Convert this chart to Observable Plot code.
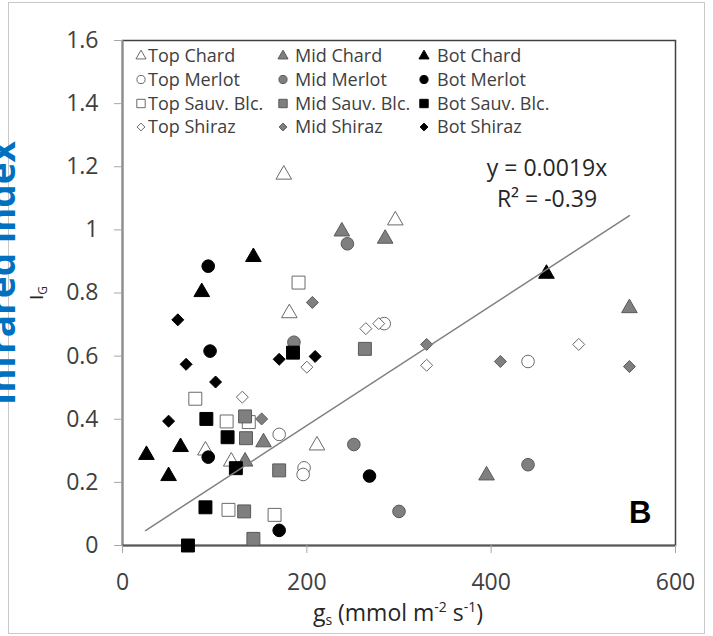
<!DOCTYPE html>
<html>
<head>
<meta charset="utf-8">
<script src="https://cdn.jsdelivr.net/npm/d3@7"></script>
<script src="https://cdn.jsdelivr.net/npm/@observablehq/plot@0.6"></script>
<style>
html, body { margin: 0; padding: 0; background: #fff; }
#wrap { position: relative; width: 713px; height: 636px; overflow: hidden; background: #fff; }
#wrap svg { position: absolute; left: 0; top: 0; }
#border { position: absolute; left: 8px; top: 2px; width: 697px; height: 632px; border: 1px solid #c8c8c8; box-sizing: border-box; pointer-events: none; }
</style>
</head>
<body>
<div id="wrap"><div id="border"></div></div>
<script>
// ---- Axis ticks ----
const xTicks = [0, 200, 400, 600];
const yTicks = [0, 0.2, 0.4, 0.6, 0.8, 1, 1.2, 1.4, 1.6];

// ---- Legend categories ----
const positions = ["Top", "Mid", "Bot"];
const varieties = ["Chard", "Merlot", "Sauv. Blc.", "Shiraz"];

// ---- Data: gs (mmol m-2 s-1) and IG per series ----
const topChardGs = [175, 181, 296, 211, 90, 118];
const topChardIg = [1.175, 0.736, 1.03, 0.317, 0.301, 0.266];
const midChardGs = [238, 285, 550, 395, 153, 133];
const midChardIg = [0.995, 0.972, 0.752, 0.222, 0.327, 0.266];
const botChardGs = [142, 86, 460, 26, 63, 50];
const botChardIg = [0.914, 0.803, 0.861, 0.287, 0.312, 0.22];

const topMerlotGs = [284, 440, 170, 197, 196];
const topMerlotIg = [0.703, 0.583, 0.352, 0.246, 0.225];
const midMerlotGs = [244, 186, 251, 440, 300];
const midMerlotIg = [0.956, 0.644, 0.32, 0.256, 0.108];
const botMerlotGs = [93, 95, 93, 268, 170];
const botMerlotIg = [0.885, 0.616, 0.28, 0.22, 0.048];

const topSauvGs = [191, 79, 113, 137, 115, 165];
const topSauvIg = [0.833, 0.465, 0.393, 0.391, 0.113, 0.097];
const midSauvGs = [263, 133, 134, 170, 132, 142];
const midSauvIg = [0.623, 0.409, 0.34, 0.238, 0.108, 0.021];
const botSauvGs = [185, 91, 114, 123, 90, 71];
const botSauvIg = [0.611, 0.401, 0.343, 0.245, 0.121, 0];

const topShirazGs = [264, 278, 330, 495, 200, 130];
const topShirazIg = [0.687, 0.703, 0.571, 0.637, 0.565, 0.47];
const midShirazGs = [206, 330, 410, 550, 151];
const midShirazIg = [0.77, 0.637, 0.583, 0.567, 0.401];
const botShirazGs = [60, 69, 101, 50, 170, 209];
const botShirazIg = [0.715, 0.574, 0.518, 0.394, 0.59, 0.599];

// ---- Trendline ----
const trendSlope = 0.0019;
const trendGs = [25, 550];
const equationLines = ["y = 0.0019x", "R\u00B2 = -0.39"];
const panelLabel = "B";
const sideLabel = "Infrared index";

// ---- Build series table ----
const seriesData = [
  ["Top", "Chard", topChardGs, topChardIg], ["Mid", "Chard", midChardGs, midChardIg], ["Bot", "Chard", botChardGs, botChardIg],
  ["Top", "Merlot", topMerlotGs, topMerlotIg], ["Mid", "Merlot", midMerlotGs, midMerlotIg], ["Bot", "Merlot", botMerlotGs, botMerlotIg],
  ["Top", "Sauv. Blc.", topSauvGs, topSauvIg], ["Mid", "Sauv. Blc.", midSauvGs, midSauvIg], ["Bot", "Sauv. Blc.", botSauvGs, botSauvIg],
  ["Top", "Shiraz", topShirazGs, topShirazIg], ["Mid", "Shiraz", midShirazGs, midShirazIg], ["Bot", "Shiraz", botShirazGs, botShirazIg]
];
const symbolOf = {"Chard": "triangle", "Merlot": "circle", "Sauv. Blc.": "square", "Shiraz": "diamond2"};
const d3SymbolOf = {"Chard": d3.symbolTriangle, "Merlot": d3.symbolCircle, "Sauv. Blc.": d3.symbolSquare, "Shiraz": d3.symbolDiamond2};
const rOf = {"Chard": 5.8, "Merlot": 6.3, "Sauv. Blc.": 7.3, "Shiraz": 5.4};
const fillOf = {"Top": "#ffffff", "Mid": "#7f7f7f", "Bot": "#000000"};
const strokeOf = {"Top": "#6a6a6a", "Mid": "#595959", "Bot": "#000000"};

const series = seriesData.map(([pos, variety, gs, ig]) => ({
  pos, variety,
  rows: gs.map((g, i) => ({gs: g, ig: ig[i]}))
}));
const trendRows = trendGs.map(g => ({gs: g, ig: trendSlope * g}));

const FONT = '"Open Sans", sans-serif';

const svg = Plot.plot({
  width: 713,
  height: 636,
  marginLeft: 122,
  marginRight: 38,
  marginTop: 40,
  marginBottom: 91,
  style: {fontFamily: FONT, fontSize: "23px", background: "transparent", overflow: "visible"},
  x: {domain: [0, 600]},
  y: {domain: [0, 1.6]},
  marks: [
    Plot.frame({stroke: "#404040", strokeWidth: 1.5}),
    Plot.ruleX([0], {stroke: "#8c8c8c", strokeWidth: 2}),
    Plot.ruleY([0], {stroke: "#595959", strokeWidth: 2}),
    Plot.axisX(xTicks, {tickSize: 8, tickPadding: 20, stroke: "#a6a6a6", fill: "#404040", label: null, tickFormat: d => String(d)}),
    Plot.axisY(yTicks, {tickSize: 8, tickPadding: 16, stroke: "#a6a6a6", fill: "#404040", label: null, tickFormat: d => String(d)}),
    ...series.map(s => Plot.dot(s.rows, {
      x: "gs", y: "ig",
      symbol: symbolOf[s.variety], r: rOf[s.variety],
      fill: fillOf[s.pos], stroke: strokeOf[s.pos], strokeWidth: 1
    })),
    Plot.line(trendRows, {x: "gs", y: "ig", stroke: "#808080", strokeWidth: 1.5})
  ]
});
document.getElementById("wrap").appendChild(svg);

const root = d3.select(svg);

// ---- Legend (inside plot frame, top-left) ----
const legSymX = [141, 283, 424];
const legTextX = [148, 295, 437];
const legRowY = [56, 79.5, 103.5, 127];
const lg = root.append("g").attr("font-family", FONT).attr("font-size", 18).attr("fill", "#404040").attr("text-anchor", "start");
series.forEach(s => {
  const c = positions.indexOf(s.pos), r = varieties.indexOf(s.variety);
  const size = Math.PI * rOf[s.variety] * rOf[s.variety] * 0.42;
  lg.append("path")
    .attr("d", d3.symbol(d3SymbolOf[s.variety], size)())
    .attr("transform", `translate(${legSymX[c]},${legRowY[r]})`)
    .attr("fill", fillOf[s.pos]).attr("stroke", strokeOf[s.pos]).attr("stroke-width", 1);
  lg.append("text")
    .attr("x", legTextX[c]).attr("y", legRowY[r]).attr("dy", "0.35em")
    .attr("text-anchor", "start")
    .text(`${s.pos} ${s.variety}`);
});

// ---- Trendline equation ----
const eq = root.append("g").attr("font-family", FONT).attr("font-size", 23).attr("fill", "#262626").attr("text-anchor", "middle");
eq.append("text").attr("x", 547).attr("y", 176).text(equationLines[0]);
eq.append("text").attr("x", 547).attr("y", 207).text(equationLines[1]);

// ---- Panel label ----
root.append("text").attr("x", 629).attr("y", 523).attr("text-anchor", "start")
  .attr("font-family", '"Liberation Sans", Arial, sans-serif').attr("font-weight", "bold").attr("font-size", 31)
  .attr("fill", "#000").text(panelLabel);

// ---- Axis titles ----
const yt = root.append("text").attr("transform", "translate(43,293) rotate(-90)")
  .attr("text-anchor", "middle").attr("font-family", FONT).attr("font-size", 19).attr("fill", "#262626");
yt.append("tspan").text("I");
yt.append("tspan").attr("font-size", 12).attr("dy", 4).text("G");

const xt = root.append("text").attr("x", 398).attr("y", 621)
  .attr("text-anchor", "middle").attr("font-family", FONT).attr("font-size", 23).attr("fill", "#262626");
xt.append("tspan").text("g");
xt.append("tspan").attr("font-size", 14).attr("dy", 4).text("s");
xt.append("tspan").attr("dy", -4).text(" (mmol m");
xt.append("tspan").attr("font-size", 14).attr("dy", -9).text("-2");
xt.append("tspan").attr("dy", 9).text(" s");
xt.append("tspan").attr("font-size", 14).attr("dy", -9).text("-1");
xt.append("tspan").attr("dy", 9).text(")");

// ---- Cut-off side label (clipped at the left edge, as in the reference) ----
root.append("text").attr("transform", "translate(15,273) rotate(-90)")
  .attr("text-anchor", "middle").attr("font-family", FONT).attr("font-weight", "bold")
  .attr("font-size", 37).attr("fill", "#0070c0").text(sideLabel);
</script>
</body>
</html>
